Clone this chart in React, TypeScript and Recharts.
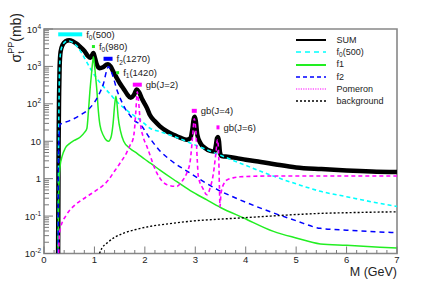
import React from 'react';
import { LineChart, Line, XAxis, YAxis, ReferenceDot, ReferenceArea, Legend } from 'recharts';

const FONT = '"Liberation Sans", Arial, Helvetica, sans-serif';

// ---- SUM ----
const sumM = [0.28, 0.285, 0.29, 0.3, 0.31, 0.33, 0.37, 0.43, 0.5, 0.57, 0.65, 0.72, 0.8, 0.87, 0.92, 0.96, 0.98, 1.0, 1.04, 1.1, 1.17, 1.23, 1.27, 1.32, 1.38, 1.42, 1.45, 1.5, 1.58, 1.65, 1.72, 1.78, 1.84, 1.88, 1.95, 2.04, 2.1, 2.2, 2.3, 2.45, 2.57, 2.7, 2.83, 2.9, 2.94, 2.97, 2.99, 3.01, 3.04, 3.1, 3.2, 3.3, 3.38, 3.41, 3.43, 3.45, 3.47, 3.49, 3.52, 3.6, 3.8, 4.0, 4.3, 4.6, 5.0, 5.5, 6.0, 6.5, 7.0];
const sumV = [0.01, 0.3, 10, 200, 1000, 2500, 3800, 4700, 5000, 4700, 4000, 3300, 2600, 1900, 1700, 2100, 2300, 1900, 1200, 900, 950, 1100, 1150, 1000, 700, 560, 470, 360, 250, 180, 145, 170, 240, 210, 130, 78, 50, 34, 25, 18, 15, 12.5, 11, 12, 20, 40, 45, 35, 15, 9, 6.5, 5.5, 5.3, 8, 12, 13, 10, 5, 4, 3.9, 3.6, 3.2, 2.8, 2.4, 2.0, 1.8, 1.65, 1.55, 1.5];

// ---- f0(500) ----
const f0M = [0.28, 0.285, 0.29, 0.3, 0.31, 0.33, 0.37, 0.43, 0.5, 0.57, 0.65, 0.72, 0.8, 0.87, 0.95, 1.05, 1.15, 1.3, 1.44, 1.6, 1.75, 1.91, 2.11, 2.3, 2.57, 2.9, 3.23, 3.5, 3.89, 4.49, 5.08, 5.48, 6.0, 6.5, 7.0];
const f0V = [0.01, 0.3, 10, 200, 1000, 2400, 3700, 4600, 4800, 4400, 3500, 2600, 1700, 1150, 750, 470, 320, 190, 115, 75, 52, 37, 22, 18, 13.5, 9, 5.9, 4.2, 2.6, 1.25, 0.67, 0.46, 0.33, 0.24, 0.18];

// ---- f1 ----
const f1M = [0.28, 0.29, 0.3, 0.32, 0.36, 0.42, 0.5, 0.6, 0.72, 0.8, 0.85, 0.88, 0.91, 0.94, 0.97, 0.98, 0.99, 1.02, 1.05, 1.08, 1.11, 1.18, 1.24, 1.28, 1.33, 1.37, 1.4, 1.425, 1.445, 1.47, 1.52, 1.58, 1.7, 1.85, 2.0, 2.11, 2.3, 2.57, 2.9, 3.23, 3.5, 3.96, 4.55, 5.0, 5.48, 6.0, 7.0];
const f1V = [0.01, 0.3, 1, 2.2, 4, 6.5, 8.5, 10.5, 13, 17, 22, 60, 215, 600, 1500, 1800, 1500, 600, 215, 60, 27, 14, 10.5, 10, 13, 30, 90, 160, 110, 45, 18, 10, 6.5, 4.7, 3.3, 2.6, 1.7, 0.95, 0.48, 0.27, 0.17, 0.089, 0.039, 0.026, 0.018, 0.0165, 0.014];

// ---- f2 ----
const f2M = [0.28, 0.285, 0.29, 0.3, 0.32, 0.5, 0.72, 0.9, 1.0, 1.1, 1.18, 1.24, 1.28, 1.32, 1.38, 1.44, 1.54, 1.62, 1.7, 1.8, 1.91, 2.1, 2.3, 2.5, 2.9, 3.43, 3.89, 4.49, 5.0, 5.48, 6.0, 7.0];
const f2V = [0.01, 0.5, 5, 15, 28, 35, 50, 75, 110, 190, 350, 750, 1000, 800, 480, 250, 115, 70, 50, 35, 28, 12, 5.5, 3.2, 1.4, 0.52, 0.27, 0.13, 0.075, 0.047, 0.042, 0.036];

// ---- Pomeron ----
const pomM = [0.29, 0.3, 0.32, 0.45, 0.6, 0.8, 1.0, 1.28, 1.4, 1.5, 1.64, 1.71, 1.77, 1.8, 1.82, 1.85, 1.88, 1.91, 1.96, 2.04, 2.24, 2.44, 2.63, 2.75, 2.83, 2.9, 2.95, 2.98, 3.01, 3.04, 3.06, 3.15, 3.23, 3.3, 3.36, 3.41, 3.44, 3.46, 3.48, 3.49, 3.51, 3.57, 3.63, 3.75, 3.89, 4.5, 5.5, 7.0];
const pomV = [0.01, 0.025, 0.044, 0.11, 0.19, 0.3, 0.45, 0.93, 1.6, 2.5, 5, 8, 12, 25, 60, 210, 100, 31, 14, 7.3, 1.4, 0.69, 0.62, 0.9, 1.4, 3, 15, 40, 20, 3, 1.15, 0.55, 0.37, 0.6, 1.4, 5, 11, 6, 0.5, 0.18, 0.4, 0.75, 0.93, 1.05, 1.12, 1.18, 1.18, 1.18];

// ---- background ----
const bgM = [1.1, 1.15, 1.25, 1.4, 1.58, 1.8, 2.1, 2.5, 3.0, 3.5, 3.89, 4.49, 5.0, 5.48, 6.0, 6.5, 7.0];
const bgV = [0.01, 0.014, 0.019, 0.027, 0.035, 0.043, 0.053, 0.063, 0.075, 0.083, 0.089, 0.1, 0.11, 0.118, 0.123, 0.127, 0.13];

// ---- ticks ----
const xTicks = [0, 0.2, 0.4, 0.6, 0.8, 1, 1.2, 1.4, 1.6, 1.8, 2, 2.2, 2.4, 2.6, 2.8, 3, 3.2, 3.4, 3.6, 3.8, 4, 4.2, 4.4, 4.6, 4.8, 5, 5.2, 5.4, 5.6, 5.8, 6, 6.2, 6.4, 6.6, 6.8, 7];
const yMajorExp = [-2, -1, 0, 1, 2, 3, 4];

// ---- annotations ----
const annM = [0.52, 0.98, 1.27, 1.46, 1.85, 2.98, 3.45];
const annV = [7200, 3400, 1600, 680, 325, 65, 23.5];
const annBase = ['f', 'f', 'f', 'f', 'gb(J=2)', 'gb(J=4)', 'gb(J=6)'];
const annSub = ['0', '0', '2', '1', '', '', ''];
const annRest = ['(500)', '(980)', '(1270)', '(1420)', '', '', ''];
const annColor = ['#00ffff', '#22ee22', '#0000ff', '#22ee22', '#ff00ff', '#ff00ff', '#ff00ff'];
const annW = [24, 3, 9, 3, 9, 5, 3];
const annH = [4, 3, 4, 3, 4, 4, 4];

// ---- legend ----
const legendNames = ['SUM', 'f0(500)', 'f1', 'f2', 'Pomeron', 'background'];

const toPts = (ms: number[], vs: number[]) => ms.map((m, i) => ({ M: m, v: vs[i] }));
const sumData = toPts(sumM, sumV);
const f0Data = toPts(f0M, f0V);
const f1Data = toPts(f1M, f1V);
const f2Data = toPts(f2M, f2V);
const pomData = toPts(pomM, pomV);
const bgData = toPts(bgM, bgV);

const yTicks: number[] = [];
yMajorExp.forEach((e) => {
  const base = Math.pow(10, e);
  if (e === 4) { yTicks.push(10000); return; }
  for (let k = 1; k <= 9; k++) yTicks.push(parseFloat((k * base).toPrecision(6)));
});

const AX = '#7a7a7a';

const XTick = (props: any) => {
  const { x, y, payload } = props;
  const v = payload.value;
  const major = Math.abs(v - Math.round(v)) < 1e-6;
  return (
    <g>
      <line x1={x} x2={x} y1={y} y2={y - (major ? 7 : 3.5)} stroke={AX} strokeWidth={1} />
      {major && (
        <text x={x} y={y + 9.5} textAnchor="middle" fontSize={9.5} fill="#222" fontFamily={FONT}>
          {Math.round(v)}
        </text>
      )}
    </g>
  );
};

const YTick = (props: any) => {
  const { x, y, payload } = props;
  const v = payload.value;
  const lg = Math.log10(v);
  const e = Math.round(lg);
  const major = Math.abs(lg - e) < 1e-6;
  let label: any = null;
  if (major) {
    if (e === 0) label = '1';
    else if (e === 1) label = '10';
    else label = (<>10<tspan dy={-4} fontSize={6.5}>{e}</tspan></>);
  }
  return (
    <g>
      <line x1={x} x2={x + (major ? 9 : 5)} y1={y} y2={y} stroke={AX} strokeWidth={1} />
      {major && (
        <text x={x - 3} y={y + 3.5} textAnchor="end" fontSize={9.5} fill="#222" fontFamily={FONT}>
          {label}
        </text>
      )}
    </g>
  );
};

const YTitle = (props: any) => {
  const vb = props.viewBox || { x: 0, y: 29 };
  const tx = vb.x + 20.5;
  const ty = vb.y - 16;
  return (
    <text transform={`translate(${tx},${ty}) rotate(-90)`} x={0} y={0} textAnchor="end" fontSize={14} fill="#222" fontFamily={FONT}>
      σ<tspan dy={3.5} fontSize={9}>t</tspan><tspan dx={-2.5} dy={-10.5} fontSize={9}>PP</tspan><tspan dy={7}>(mb)</tspan>
    </text>
  );
};

const XTitle = (props: any) => {
  const vb = props.viewBox || { x: 44, y: 253.5, width: 352.7, height: 28 };
  return (
    <text x={vb.x + vb.width} y={vb.y + 22.5} textAnchor="end" fontSize={12.5} fill="#222" fontFamily={FONT}>
      M (GeV)
    </text>
  );
};

const makeAnnShape = (i: number) => (p: any) => {
  const { cx, cy } = p;
  if (cx == null || cy == null) return <g />;
  const w = annW[i];
  const h = annH[i];
  return (
    <g>
      <rect x={cx - w / 2} y={cy - h / 2} width={w} height={h} fill={annColor[i]} />
      <text x={cx + w / 2 + 4} y={cy + 3.3} fontSize={9.5} fill="#222" fontFamily={FONT}>
        {annBase[i]}
        {annSub[i] ? <tspan dy={2.5} fontSize={6.5}>{annSub[i]}</tspan> : null}
        {annRest[i] ? <tspan dy={annSub[i] ? -2.5 : 0}>{annRest[i]}</tspan> : null}
      </text>
    </g>
  );
};

const legendStyles = [
  { color: '#000000', dash: undefined, w: 2 },
  { color: '#00ffff', dash: '5 4', w: 1.5 },
  { color: '#22ee22', dash: undefined, w: 2 },
  { color: '#0000ff', dash: '4 3', w: 1.5 },
  { color: '#ff00ff', dash: '1.2 1.2', w: 1.2 },
  { color: '#000000', dash: '2 2', w: 1.5 },
];

const renderLegendLabel = (name: string) => {
  if (name === 'f0(500)') {
    return (<span>f<sub style={{ fontSize: 6.5, verticalAlign: 'baseline', position: 'relative', top: 2 }}>0</sub>(500)</span>);
  }
  return <span>{name}</span>;
};

const LegendContent = () => (
  <div style={{ fontFamily: FONT, fontSize: 9, color: '#222' }}>
    {legendNames.map((n, i) => (
      <div key={n} style={{ display: 'flex', alignItems: 'center', height: 12.3, lineHeight: '12.3px' }}>
        <svg width={30} height={6} style={{ display: 'block' }}>
          <line x1={0} x2={30} y1={3} y2={3} stroke={legendStyles[i].color} strokeWidth={legendStyles[i].w} strokeDasharray={legendStyles[i].dash} />
        </svg>
        <span style={{ marginLeft: 10.5, whiteSpace: 'nowrap' }}>{renderLegendLabel(n)}</span>
      </div>
    ))}
  </div>
);

export default function App() {
  return (
    <div style={{ position: 'absolute', left: 0, top: 0, width: 442, height: 282, background: '#fff' }}>
      <LineChart width={442} height={282} margin={{ top: 29, right: 45, bottom: 0.5, left: 0 }}>
        <XAxis
          type="number"
          dataKey="M"
          domain={[0, 7]}
          allowDataOverflow
          ticks={xTicks}
          interval={0}
          tickLine={false}
          axisLine={false}
          tickSize={0}
          tickMargin={0}
          height={28}
          tick={<XTick />}
          label={{ content: (p: any) => <XTitle {...p} /> }}
        />
        <YAxis
          type="number"
          scale="log"
          domain={[0.01, 10000]}
          allowDataOverflow
          ticks={yTicks}
          interval={0}
          tickLine={false}
          axisLine={false}
          tickSize={0}
          tickMargin={0}
          width={44}
          tick={<YTick />}
          label={{ content: (p: any) => <YTitle {...p} /> }}
        />
        <Line data={sumData} dataKey="v" type="monotone" stroke="#000" strokeWidth={4.5} dot={false} activeDot={false} isAnimationActive={false} />
        <Line data={f0Data} dataKey="v" type="monotone" stroke="#00ffff" strokeWidth={1.6} strokeDasharray="4 3" dot={false} activeDot={false} isAnimationActive={false} />
        <Line data={f1Data} dataKey="v" type="monotone" stroke="#22ee22" strokeWidth={1.5} dot={false} activeDot={false} isAnimationActive={false} />
        <Line data={f2Data} dataKey="v" type="monotone" stroke="#0000ff" strokeWidth={1.5} strokeDasharray="5 4" dot={false} activeDot={false} isAnimationActive={false} />
        <Line data={pomData} dataKey="v" type="monotone" stroke="#ff00ff" strokeWidth={1.6} strokeDasharray="4 3" dot={false} activeDot={false} isAnimationActive={false} />
        <Line data={bgData} dataKey="v" type="monotone" stroke="#000" strokeWidth={1.4} strokeDasharray="2 2" dot={false} activeDot={false} isAnimationActive={false} />
        {annM.map((m, i) => (
          <ReferenceDot key={i} x={m} y={annV[i]} r={0} ifOverflow="visible" shape={makeAnnShape(i)} />
        ))}
        <ReferenceArea x1={0} x2={7} y1={0.01} y2={10000} fill="none" stroke="#888" strokeWidth={1.6} ifOverflow="visible" />
        <Legend
          layout="vertical"
          align="center"
          verticalAlign="middle"
          content={() => <LegendContent />}
          wrapperStyle={{ left: 296, top: 33.8, width: 120, height: 76 }}
        />
      </LineChart>
    </div>
  );
}
